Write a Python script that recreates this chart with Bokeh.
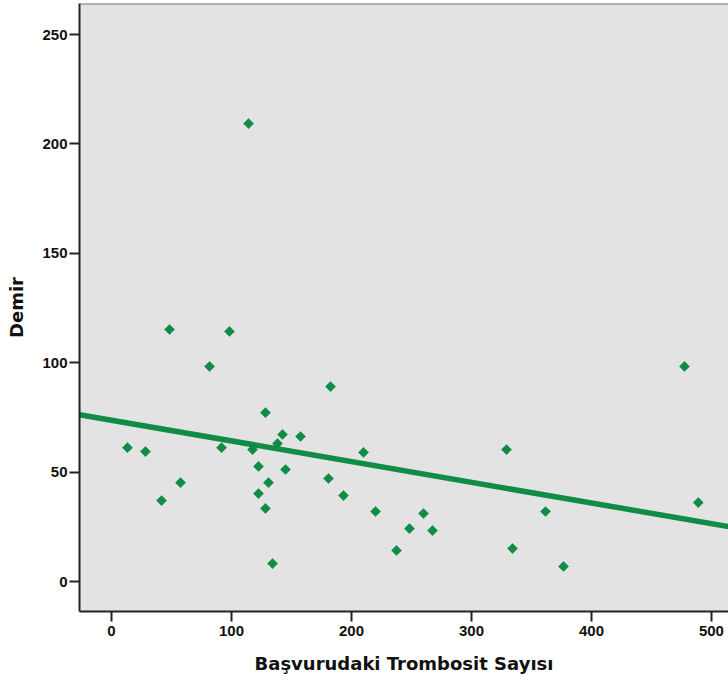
import numpy as np
from bokeh.plotting import figure
from bokeh.models import Span, FixedTicker, Range1d
from bokeh.embed import file_html
from bokeh.resources import INLINE

# Data (x: platelet count, y: iron)
trombosit = [13.3, 28.3, 41.7, 48.3, 57.5, 81.7, 91.7, 98.3, 114.2, 117.5,
             122.5, 122.5, 128.3, 128.3, 130.8, 134.2, 138.3, 142.5, 145.0, 157.5,
             182.5, 180.8, 193.3, 210.0, 220.0, 237.5, 248.3, 260.0, 267.5, 329.2,
             334.2, 361.7, 376.7, 477.5, 489.0]
demir = [61.2, 59.4, 37.0, 115.2, 45.2, 98.3, 61.2, 114.3, 209.3, 60.3,
         52.6, 40.2, 77.2, 33.4, 45.2, 8.2, 63.1, 67.2, 51.2, 66.3,
         89.1, 47.1, 39.3, 59.0, 32.0, 14.2, 24.2, 31.1, 23.3, 60.3,
         15.1, 32.0, 6.9, 98.3, 36.1]
x_ticks = [0, 100, 200, 300, 400, 500]
y_ticks = [0, 50, 100, 150, 200, 250]

X0, X1 = -26.7, 514.2
Y0, Y1 = -13.7, 264.2

green = "#0f8c45"
tick_font = "Liberation Sans"
title_font = "DejaVu Sans"

p = figure(width=728, height=683, output_backend="svg", toolbar_location=None,
           x_range=Range1d(X0, X1), y_range=Range1d(Y0, Y1),
           min_border_left=79, min_border_right=0, min_border_top=3, min_border_bottom=72)
p.background_fill_color = "#e3e3e3"
p.border_fill_color = "white"
p.outline_line_color = None
p.grid.visible = False

# regression fit line
slope, intercept = np.polyfit(trombosit, demir, 1)
xs = [X0, X1]
ys = [intercept + slope * X0, intercept + slope * X1]
p.line(xs, ys, line_color=green, line_width=5.5)

p.scatter(trombosit, demir, marker="square", angle=np.pi / 4, size=7.2,
          fill_color=green, line_color=green, line_width=0.5)

p.add_layout(Span(location=Y1, dimension="width", line_color="#777777", line_width=2))

for ax in (p.xaxis[0], p.yaxis[0]):
    ax.axis_line_color = "#222222"
    ax.axis_line_width = 2
    ax.major_tick_line_color = "#222222"
    ax.major_tick_line_width = 2
    ax.major_tick_out = 10
    ax.major_tick_in = 0
    ax.minor_tick_line_color = None
    ax.major_label_text_font = tick_font
    ax.major_label_text_font_style = "bold"
    ax.major_label_text_font_size = "15px"
    ax.major_label_text_color = "#111111"
    ax.axis_label_text_font = title_font
    ax.axis_label_text_font_style = "bold"
    ax.axis_label_text_font_size = "18px"
    ax.axis_label_text_color = "#111111"

p.xaxis[0].ticker = FixedTicker(ticks=x_ticks)
p.yaxis[0].ticker = FixedTicker(ticks=y_ticks)
p.xaxis[0].axis_label = "Başvurudaki Trombosit Sayısı"
p.yaxis[0].axis_label = "Demir"
p.xaxis[0].major_label_standoff = 4
p.yaxis[0].major_label_standoff = 2
p.xaxis[0].axis_label_standoff = 14
p.yaxis[0].axis_label_standoff = 12

open("out.html", "w").write(file_html(p, INLINE))
